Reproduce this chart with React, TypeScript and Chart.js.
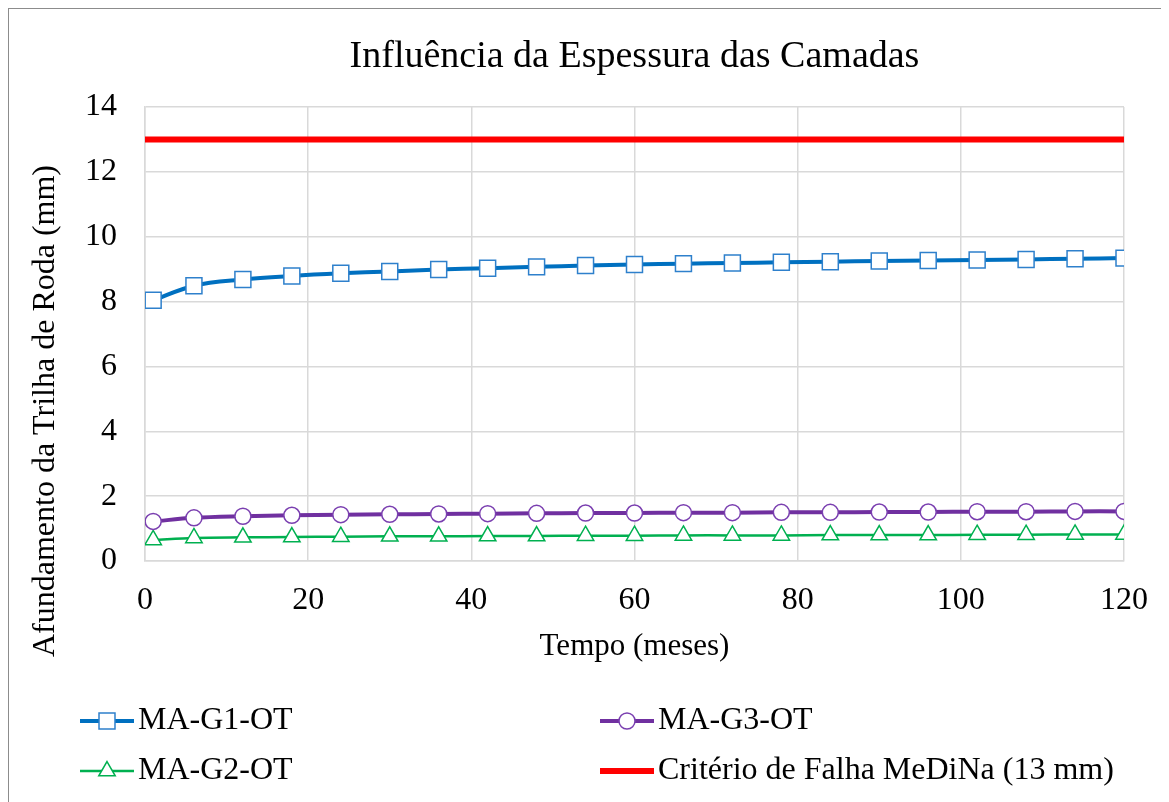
import React, { useEffect, useRef } from "react";
import { Chart, registerables } from "chart.js";

Chart.register(...registerables);

const months = [1, 6, 12, 18, 24, 30, 36, 42, 48, 54, 60, 66, 72, 78, 84, 90, 96, 102, 108, 114, 120];
const g1Values = [8.04, 8.49, 8.68, 8.79, 8.87, 8.93, 8.99, 9.03, 9.07, 9.11, 9.14, 9.17, 9.19, 9.21, 9.23, 9.25, 9.27, 9.28, 9.3, 9.32, 9.34];
const g3Values = [1.22, 1.33, 1.38, 1.41, 1.43, 1.44, 1.45, 1.46, 1.47, 1.48, 1.48, 1.49, 1.49, 1.5, 1.5, 1.51, 1.51, 1.52, 1.52, 1.53, 1.53];
const g2Values = [0.65, 0.71, 0.73, 0.74, 0.75, 0.76, 0.76, 0.77, 0.77, 0.78, 0.78, 0.79, 0.79, 0.79, 0.8, 0.8, 0.8, 0.81, 0.81, 0.82, 0.82];
const criterionX = [0, 120];
const criterionValue = 13;

const seriesNames = ["MA-G1-OT", "MA-G3-OT", "MA-G2-OT", "Critério de Falha MeDiNa (13 mm)"];
const chartTitle = "Influência da Espessura das Camadas";
const xTitle = "Tempo (meses)";
const yTitle = "Afundamento da Trilha de Roda (mm)";

const FONT = "'Liberation Serif', 'Times New Roman', serif";

function drawMarker(ctx: CanvasRenderingContext2D, style: string, x: number, y: number, r: number, stroke: string, lw: number) {
  ctx.save();
  ctx.fillStyle = "#ffffff";
  ctx.strokeStyle = stroke;
  ctx.lineWidth = lw;
  ctx.beginPath();
  if (style === "rect") {
    const s = Math.SQRT1_2 * r;
    ctx.rect(x - s, y - s, 2 * s, 2 * s);
  } else if (style === "circle") {
    ctx.arc(x, y, r, 0, Math.PI * 2);
  } else if (style === "triangle") {
    let rad = 0;
    ctx.moveTo(x + Math.sin(rad) * r, y - Math.cos(rad) * r);
    rad += (2 * Math.PI) / 3;
    ctx.lineTo(x + Math.sin(rad) * r, y - Math.cos(rad) * r);
    rad += (2 * Math.PI) / 3;
    ctx.lineTo(x + Math.sin(rad) * r, y - Math.cos(rad) * r);
    ctx.closePath();
  }
  ctx.fill();
  ctx.stroke();
  ctx.restore();
}

const customDecor = {
  id: "customDecor",
  afterDraw(chart: any) {
    const ctx: CanvasRenderingContext2D = chart.ctx;
    const area = chart.chartArea;

    // chart title, centred over the plot area
    ctx.save();
    ctx.fillStyle = "#000";
    ctx.font = `38px ${FONT}`;
    ctx.textAlign = "center";
    ctx.textBaseline = "middle";
    ctx.fillText(chartTitle, (area.left + area.right) / 2, 48);
    ctx.restore();

    // y-axis title
    ctx.save();
    ctx.fillStyle = "#000";
    ctx.font = `32px ${FONT}`;
    ctx.translate(37, 402);
    ctx.rotate(-Math.PI / 2);
    ctx.textAlign = "center";
    ctx.textBaseline = "middle";
    ctx.fillText(yTitle, 0, 0);
    ctx.restore();

    // two-column legend
    const cols = [71, 591];
    const rows = [712, 762];
    chart.data.datasets.forEach((ds: any, i: number) => {
      const cx = cols[i % 2];
      const cy = rows[Math.floor(i / 2)];
      ctx.save();
      ctx.strokeStyle = ds.borderColor;
      ctx.lineWidth = ds.borderWidth;
      ctx.lineCap = "butt";
      ctx.beginPath();
      ctx.moveTo(cx, cy);
      ctx.lineTo(cx + 54, cy);
      ctx.stroke();
      ctx.restore();
      if (ds.pointRadius > 0) {
        drawMarker(ctx, ds.pointStyle, cx + 27, cy, ds.pointRadius, ds.pointBorderColor, ds.pointBorderWidth);
      }
      ctx.save();
      ctx.fillStyle = "#000";
      ctx.font = `32px ${FONT}`;
      ctx.textAlign = "left";
      ctx.textBaseline = "middle";
      ctx.fillText(ds.label, cx + 58, cy);
      ctx.restore();
    });
  },
};

export default function App() {
  const canvasRef = useRef<HTMLCanvasElement>(null);

  useEffect(() => {
    if (!canvasRef.current) return;
    const toXY = (vals: number[]) => months.map((m, i) => ({ x: m, y: vals[i] }));
    const chart = new Chart(canvasRef.current, {
      type: "line",
      data: {
        datasets: [
          {
            label: seriesNames[0],
            data: toXY(g1Values),
            borderColor: "#0070C0",
            borderWidth: 4,
            pointStyle: "rect",
            pointRadius: 11.3,
            pointBackgroundColor: "#ffffff",
            pointBorderColor: "#2E80CC",
            pointBorderWidth: 1.5,
            tension: 0.35,
          },
          {
            label: seriesNames[1],
            data: toXY(g3Values),
            borderColor: "#7030A0",
            borderWidth: 4,
            pointStyle: "circle",
            pointRadius: 8,
            pointBackgroundColor: "#ffffff",
            pointBorderColor: "#7a3fb0",
            pointBorderWidth: 1.5,
            tension: 0.35,
          },
          {
            label: seriesNames[2],
            data: toXY(g2Values),
            borderColor: "#00B050",
            borderWidth: 2.5,
            pointStyle: "triangle",
            pointRadius: 9.5,
            pointBackgroundColor: "#ffffff",
            pointBorderColor: "#00B050",
            pointBorderWidth: 1.5,
            tension: 0.35,
          },
          {
            label: seriesNames[3],
            data: criterionX.map((x) => ({ x, y: criterionValue })),
            borderColor: "#FF0000",
            borderWidth: 6,
            pointRadius: 0,
            pointStyle: "line",
            tension: 0,
          },
        ],
      },
      options: {
        animation: false,
        responsive: true,
        maintainAspectRatio: false,
        layout: { padding: { left: 0, right: 45, top: 98, bottom: 131 } },
        plugins: {
          legend: { display: false },
          tooltip: { enabled: false },
          title: { display: false },
        },
        scales: {
          x: {
            type: "linear",
            min: 0,
            max: 120,
            ticks: { stepSize: 20, color: "#000", font: { family: FONT, size: 32 }, padding: 20, maxRotation: 0 },
            grid: { color: "#d9d9d9", lineWidth: 1.5, drawTicks: false },
            border: { color: "#d9d9d9", width: 1.5 },
            title: {
              display: true,
              text: xTitle,
              color: "#000",
              font: { family: FONT, size: 31 },
              padding: { top: 0, bottom: 6 },
            },
            afterFit: (s: any) => {
              s.height = 110;
            },
          },
          y: {
            type: "linear",
            min: 0,
            max: 14,
            ticks: { stepSize: 2, color: "#000", font: { family: FONT, size: 32 }, padding: 28 },
            grid: { color: "#d9d9d9", lineWidth: 1.5, drawTicks: false },
            border: { color: "#d9d9d9", width: 1.5 },
            afterFit: (s: any) => {
              s.width = 136;
            },
          },
        },
      },
      plugins: [customDecor],
    });
    return () => chart.destroy();
  }, []);

  return (
    <div
      style={{
        width: 1160,
        height: 793,
        borderTop: "1px solid #8c8c8c",
        borderLeft: "1px solid #8c8c8c",
        position: "relative",
        overflow: "hidden",
      }}
    >
      <canvas ref={canvasRef} />
    </div>
  );
}
